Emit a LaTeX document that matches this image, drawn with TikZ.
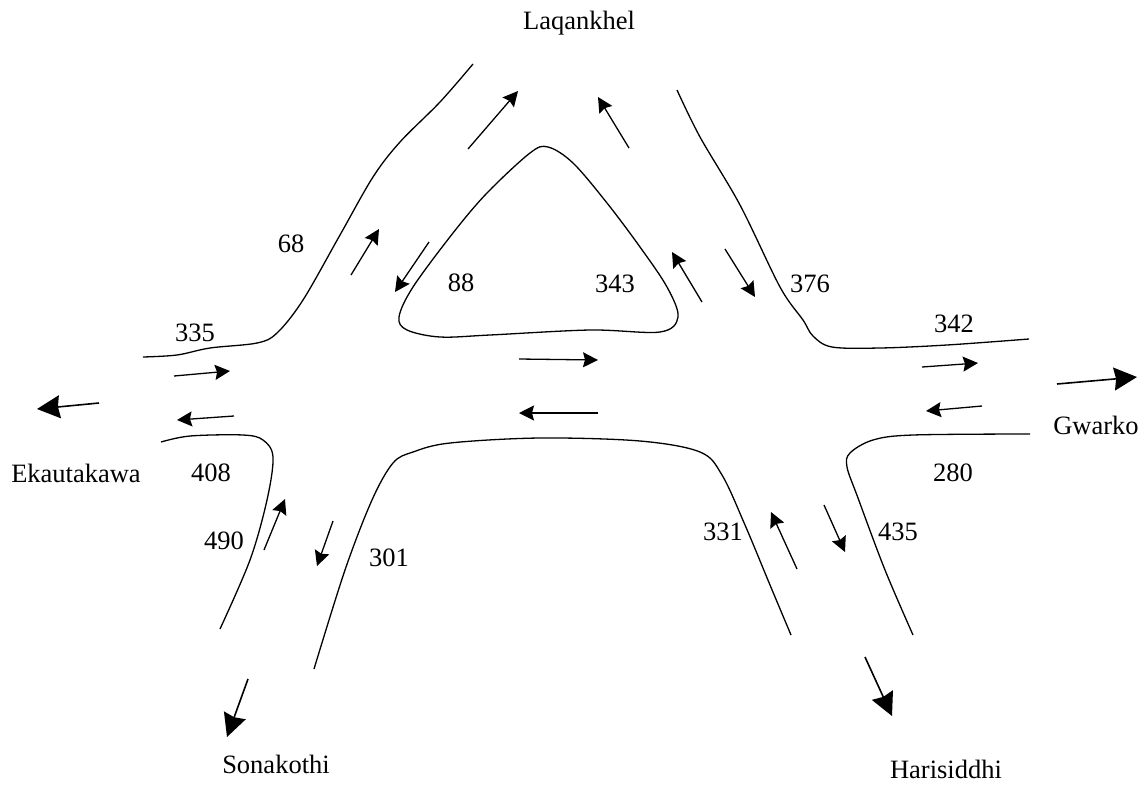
\documentclass[tikz,border=0pt]{standalone}
\usepackage{fontspec}
\setmainfont{Liberation Serif}
\usetikzlibrary{arrows.meta}
\tikzset{
  road/.style={line width=1.3pt, smooth, tension=0.55},
  flow/.style={line width=1.3pt, -{Stealth[length=15pt,width=15pt,inset=2pt]}},
  bigflow/.style={line width=1.6pt, -{Stealth[length=23pt,width=23pt,inset=2pt]}},
  lbl/.style={font=\fontsize{26.5}{30}\selectfont, inner sep=0pt}
}
\begin{document}
\begin{tikzpicture}[x=1pt,y=-1pt]
\useasboundingbox (0,0) rectangle (1148,785);
% road edges
\draw[road] plot coordinates {(143,357) (177,355) (210,348) (257,343) (277,333) (303,300) (340,235) (373,177) (400,142) (440,102) (473,64)};
\draw[road] plot coordinates {(677,90) (700,137) (740,205) (780,287) (803,320) (813,336) (832,347) (880,348) (947,345) (1029,339)};
\draw[road] plot coordinates {(1030,434) (913,435) (873,440) (850,453) (847,467) (858,498) (885,570) (913,635)};
\draw[road] plot coordinates {(791,635) (770,585) (745,525) (722,475) (700,452) (640,441) (540,438) (450,443) (413,452) (393,463) (372,500) (345,570) (314,669)};
\draw[road] plot coordinates {(161,442) (190,436) (243,435) (263,440) (273,457) (267,500) (250,560) (220,629)};
% island
\draw[road] plot[smooth cycle] coordinates {(548,147) (573,163) (607,203) (640,247) (667,287) (678,317) (660,332) (590,330) (490,335) (440,337) (407,330) (399,317) (413,287) (453,233) (487,193) (530,153)};
% flow arrows
\coordinate (a1s) at (174,376); \coordinate (a1e) at (230,371);
\draw[flow] (a1s) -- (a1e);
\coordinate (a2s) at (234,416); \coordinate (a2e) at (177,420);
\draw[flow] (a2s) -- (a2e);
\coordinate (a3s) at (351,275); \coordinate (a3e) at (379,229);
\draw[flow] (a3s) -- (a3e);
\coordinate (a4s) at (468,149); \coordinate (a4e) at (518,91);
\draw[flow] (a4s) -- (a4e);
\coordinate (a5s) at (629,148); \coordinate (a5e) at (598,97);
\draw[flow] (a5s) -- (a5e);
\coordinate (a6s) at (429,242); \coordinate (a6e) at (395,292);
\draw[flow] (a6s) -- (a6e);
\coordinate (a7s) at (702,302); \coordinate (a7e) at (672,252);
\draw[flow] (a7s) -- (a7e);
\coordinate (a8s) at (725,249); \coordinate (a8e) at (755,297);
\draw[flow] (a8s) -- (a8e);
\coordinate (a9s) at (519,359); \coordinate (a9e) at (598,360);
\draw[flow] (a9s) -- (a9e);
\coordinate (a10s) at (598,413); \coordinate (a10e) at (519,413);
\draw[flow] (a10s) -- (a10e);
\coordinate (a11s) at (922,367); \coordinate (a11e) at (978,363);
\draw[flow] (a11s) -- (a11e);
\coordinate (a12s) at (982,406); \coordinate (a12e) at (926,411);
\draw[flow] (a12s) -- (a12e);
\coordinate (a13s) at (264,550); \coordinate (a13e) at (285,499);
\draw[flow] (a13s) -- (a13e);
\coordinate (a14s) at (333,521); \coordinate (a14e) at (317,566);
\draw[flow] (a14s) -- (a14e);
\coordinate (a15s) at (797,569); \coordinate (a15e) at (771,512);
\draw[flow] (a15s) -- (a15e);
\coordinate (a16s) at (824,505); \coordinate (a16e) at (845,552);
\draw[flow] (a16s) -- (a16e);
% exits
\coordinate (b1s) at (99,403); \coordinate (b1e) at (37,409);
\draw[bigflow] (b1s) -- (b1e);
\coordinate (b2s) at (1057,384); \coordinate (b2e) at (1137,377);
\draw[bigflow] (b2s) -- (b2e);
\coordinate (b3s) at (248,679); \coordinate (b3e) at (227,737);
\draw[bigflow] (b3s) -- (b3e);
\coordinate (b4s) at (865,657); \coordinate (b4e) at (892,716);
\draw[bigflow] (b4s) -- (b4e);
% places
\node[lbl] (laq) at (579,23) {Laqankhel};
\node[lbl] (eka) at (76,473) {Ekautakawa};
\node[lbl] (gwa) at (1096,425) {Gwarko};
\node[lbl] (son) at (276,764) {Sonakothi};
\node[lbl] (har) at (946,769) {Harisiddhi};
% counts
\node[lbl] (n68) at (291,244) {68};
\node[lbl] (n335) at (195,333) {335};
\node[lbl] (n88) at (461,283) {88};
\node[lbl] (n343) at (615,284) {343};
\node[lbl] (n376) at (810,284) {376};
\node[lbl] (n342) at (954,324) {342};
\node[lbl] (n408) at (211,473) {408};
\node[lbl] (n490) at (224,541) {490};
\node[lbl] (n301) at (389,558) {301};
\node[lbl] (n331) at (723,532) {331};
\node[lbl] (n435) at (898,532) {435};
\node[lbl] (n280) at (953,473) {280};
\end{tikzpicture}
\end{document}
